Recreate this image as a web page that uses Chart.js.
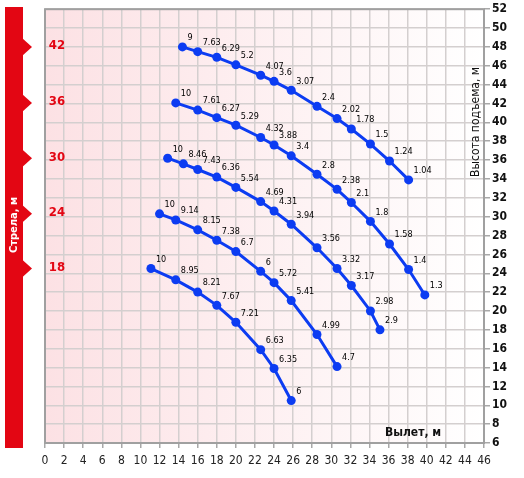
<!DOCTYPE html>
<html>
<head>
<meta charset="utf-8">
<script src="https://cdn.jsdelivr.net/npm/chart.js@4/dist/chart.umd.min.js"></script>
<style>
  body { margin: 0; background: #fff; }
  canvas { display: block; }
</style>
</head>
<body>
<canvas id="craneChart" width="524" height="478"></canvas>
<script>
// стрела, м
const booms = [42, 36, 30, 24, 18];

// вылет (x), высота (y), грузоподъемность (подписи)
const reach42 = [14.4, 16, 18, 20, 22.6, 24, 25.8, 28.5, 30.6, 32.1, 34.1, 36.1, 38.1];
const height42 = [48, 47.5, 46.9, 46.1, 45.0, 44.35, 43.4, 41.7, 40.4, 39.3, 37.7, 35.9, 33.9];
const load42 = ["9", "7.63", "6.29", "5.2", "4.07", "3.6", "3.07", "2.4", "2.02", "1.78", "1.5", "1.24", "1.04"];

const reach36 = [13.7, 16, 18, 20, 22.6, 24, 25.8, 28.5, 30.6, 32.1, 34.1, 36.1, 38.1, 39.8];
const height36 = [42.06, 41.3, 40.5, 39.7, 38.4, 37.6, 36.45, 34.5, 32.9, 31.5, 29.5, 27.1, 24.4, 21.7];
const load36 = ["10", "7.61", "6.27", "5.29", "4.32", "3.88", "3.4", "2.8", "2.38", "2.1", "1.8", "1.58", "1.4", "1.3"];

const reach30 = [12.85, 14.5, 16, 18, 20, 22.6, 24, 25.8, 28.5, 30.6, 32.1, 34.1, 35.1];
const height30 = [36.2, 35.6, 35.0, 34.2, 33.1, 31.6, 30.6, 29.2, 26.7, 24.5, 22.7, 20.0, 18.0];
const load30 = ["10", "8.46", "7.43", "6.36", "5.54", "4.69", "4.31", "3.94", "3.56", "3.32", "3.17", "2.98", "2.9"];

const reach24 = [12.0, 13.7, 16, 18, 20, 22.6, 24, 25.8, 28.5, 30.6];
const height24 = [30.3, 29.65, 28.6, 27.5, 26.3, 24.2, 23.0, 21.1, 17.5, 14.1];
const load24 = ["10", "9.14", "8.15", "7.38", "6.7", "6", "5.72", "5.41", "4.99", "4.7"];

const reach18 = [11.1, 13.7, 16, 18, 20, 22.6, 24, 25.8];
const height18 = [24.5, 23.3, 22.0, 20.6, 18.8, 15.9, 13.9, 10.5];
const load18 = ["10", "8.95", "8.21", "7.67", "7.21", "6.63", "6.35", "6"];

const reachList = [reach42, reach36, reach30, reach24, reach18];
const heightList = [height42, height36, height30, height24, height18];
const loadList = [load42, load36, load30, load24, load18];

const xTitle = "Вылет, м";
const yTitle = "Высота подъема, м";
const boomTitle = "Стрела, м";

const blue = "#0c3cf2";
const red = "#e30613";
const narrow = "'Liberation Sans Narrow', 'DejaVu Sans Condensed', sans-serif";

function makePoints(xs, ys) {
    let pts = [];
    for (let i = 0; i < xs.length; i++) {
        pts.push({ x: xs[i], y: ys[i] });
    }
    return pts;
}

let datasets = [];
for (let i = 0; i < booms.length; i++) {
    datasets.push({
        label: booms[i] + " м",
        data: makePoints(reachList[i], heightList[i]),
        showLine: true,
        borderColor: blue,
        backgroundColor: blue,
        borderWidth: 3,
        pointRadius: 4.5,
        pointBorderWidth: 0,
        pointHoverRadius: 4.5,
        tension: 0
    });
}

// фон, красная полоса слева
const backgroundPlugin = {
    id: "background",
    beforeDraw(chart) {
        const ctx = chart.ctx;
        const a = chart.chartArea;
        const yScale = chart.scales.y;
        ctx.save();
        ctx.fillStyle = "#fff";
        ctx.fillRect(0, 0, chart.width, chart.height);
        let grad = ctx.createLinearGradient(a.left, 0, a.right, 0);
        grad.addColorStop(0, "#fce1e4");
        grad.addColorStop(1, "#ffffff");
        ctx.fillStyle = grad;
        ctx.fillRect(a.left, a.top, a.right - a.left, a.bottom - a.top);

        ctx.fillStyle = red;
        ctx.fillRect(5, 7, 18, 441);
        for (let i = 0; i < booms.length; i++) {
            let y = yScale.getPixelForValue(heightList[i][0]);
            ctx.beginPath();
            ctx.moveTo(22, y - 9);
            ctx.lineTo(32, y);
            ctx.lineTo(22, y + 9);
            ctx.closePath();
            ctx.fill();
        }
        ctx.restore();
    },
    beforeDatasetsDraw(chart) {
        const ctx = chart.ctx;
        const a = chart.chartArea;
        ctx.save();
        ctx.strokeStyle = "#a0a0a0";
        ctx.lineWidth = 2;
        ctx.strokeRect(a.left, a.top, a.right - a.left, a.bottom - a.top);
        ctx.restore();
    }
};

// подписи точек и надписи
const labelPlugin = {
    id: "labels",
    afterDatasetsDraw(chart) {
        const ctx = chart.ctx;
        ctx.save();
        ctx.fillStyle = "#000";
        ctx.font = "9px " + narrow;
        ctx.textAlign = "left";
        ctx.textBaseline = "middle";
        for (let i = 0; i < loadList.length; i++) {
            let meta = chart.getDatasetMeta(i);
            for (let j = 0; j < meta.data.length; j++) {
                let p = meta.data[j];
                ctx.fillText(loadList[i][j], p.x + 5, p.y - 9);
            }
        }
        ctx.restore();
    },
    afterDraw(chart) {
        const ctx = chart.ctx;
        const a = chart.chartArea;
        const yScale = chart.scales.y;
        ctx.save();

        // стрела
        ctx.fillStyle = red;
        ctx.font = "bold 13px " + narrow;
        ctx.textAlign = "center";
        ctx.textBaseline = "middle";
        for (let i = 0; i < booms.length; i++) {
            ctx.fillText(String(booms[i]), 57, yScale.getPixelForValue(heightList[i][0]) - 1);
        }

        ctx.save();
        ctx.translate(14, 225);
        ctx.rotate(-Math.PI / 2);
        ctx.fillStyle = "#fff";
        ctx.font = "bold 11px " + narrow;
        ctx.fillText(boomTitle, 0, 0);
        ctx.restore();

        // заголовки осей
        ctx.fillStyle = "#111";
        ctx.save();
        ctx.translate(a.right - 8, 122);
        ctx.rotate(-Math.PI / 2);
        ctx.font = "12px " + narrow;
        ctx.fillText(yTitle, 0, 0);
        ctx.restore();

        ctx.font = "bold 12px " + narrow;
        ctx.fillText(xTitle, 413, a.bottom - 10);
        ctx.restore();
    }
};

const canvas = document.getElementById("craneChart");
new Chart(canvas, {
    type: "scatter",
    data: { datasets: datasets },
    options: {
        responsive: false,
        animation: false,
        layout: { padding: { left: 45, top: 8, right: 0, bottom: 0 } },
        plugins: {
            legend: { display: false },
            tooltip: { enabled: false }
        },
        scales: {
            x: {
                type: "linear",
                min: 0,
                max: 46,
                ticks: {
                    stepSize: 2,
                    color: "#222",
                    padding: 6,
                    maxRotation: 0,
                    font: { family: narrow, size: 12 }
                },
                grid: { color: "#d4cfcf", lineWidth: 1.5, tickLength: 5, tickColor: "#a8a8a8" },
                border: { display: false },
                afterFit: (scale) => { scale.height = 35; }
            },
            y: {
                type: "linear",
                position: "right",
                min: 6,
                max: 52,
                ticks: {
                    stepSize: 2,
                    color: "#111",
                    padding: 2,
                    font: { family: narrow, size: 12, weight: "bold" }
                },
                grid: { color: "#d4cfcf", lineWidth: 1.5, tickLength: 6, tickColor: "#a8a8a8" },
                border: { display: false },
                afterFit: (scale) => { scale.width = 40; }
            }
        }
    },
    plugins: [backgroundPlugin, labelPlugin]
});
</script>
</body>
</html>
